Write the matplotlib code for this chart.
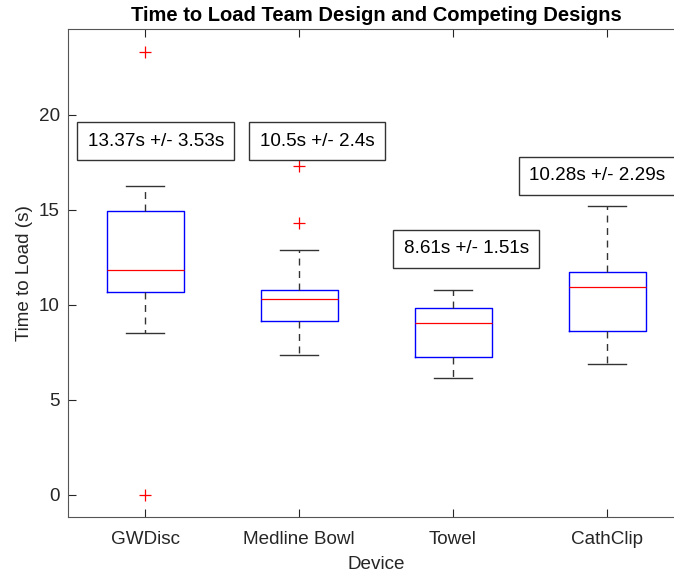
import matplotlib.pyplot as plt

plt.rcParams['font.family'] = ['Liberation Sans', 'DejaVu Sans']

# box stats (seconds)
devices = ['GWDisc', 'Medline Bowl', 'Towel', 'CathClip']
medians = [11.83, 10.32, 9.04, 10.96]
q1 = [10.65, 9.17, 7.26, 8.62]
q3 = [14.91, 10.79, 9.83, 11.72]
whis_lo = [8.51, 7.37, 6.14, 6.86]
whis_hi = [16.23, 12.89, 10.79, 15.21]
outliers = [[23.3, 0.0], [17.28, 14.30], [], []]

# mean +/- sd labels and where they sit
labels = ['13.37s +/- 3.53s', '10.5s +/- 2.4s', '8.61s +/- 1.51s', '10.28s +/- 2.29s']
label_x = [1.07, 2.118, 3.086, 3.935]
label_y = [18.62, 18.62, 12.95, 16.79]

axis_col = '#262626'

fig = plt.figure(figsize=(6.74, 5.75), dpi=100)
ax = fig.add_axes([68 / 674, 58 / 575, 616 / 674, 487.7 / 575])

stats = []
for i, name in enumerate(devices):
    stats.append({'label': name, 'med': medians[i], 'q1': q1[i], 'q3': q3[i],
                  'whislo': whis_lo[i], 'whishi': whis_hi[i], 'fliers': outliers[i]})

ax.bxp(stats, positions=[1, 2, 3, 4], widths=0.5, showfliers=True,
       boxprops=dict(color='#0000ff', linewidth=1.0),
       medianprops=dict(color='#ff0000', linewidth=0.9),
       whiskerprops=dict(color='#333333', linewidth=1.0, linestyle=(0, (5, 4))),
       capprops=dict(color='#333333', linewidth=1.0),
       capwidths=0.25,
       flierprops=dict(marker='+', markeredgecolor='#ff0000', markersize=9,
                       markeredgewidth=0.9, linestyle='none'))

for i in range(len(labels)):
    ax.text(label_x[i], label_y[i], labels[i], ha='center', va='center', fontsize=13.6,
            color='black',
            bbox=dict(boxstyle='square,pad=0.55', facecolor='white', edgecolor='#333333',
                      linewidth=1.0))

ax.set_xlim(0.5, 4.5)
ax.set_ylim(-1.17, 24.5)
ax.set_yticks([0, 5, 10, 15, 20])
ax.set_xticks([1, 2, 3, 4])
ax.set_xticklabels(devices)

ax.tick_params(direction='in', length=6, width=0.8, colors=axis_col, labelsize=13.6,
               top=True, right=True)
ax.tick_params(axis='x', pad=10)
ax.tick_params(axis='y', pad=6)
for s in ax.spines.values():
    s.set_color('#555555')
    s.set_linewidth(0.8)

ax.set_xlabel('Device', fontsize=13.6, color=axis_col, labelpad=6)
ax.set_ylabel('Time to Load (s)', fontsize=13.6, color=axis_col, labelpad=4)
ax.set_title('Time to Load Team Design and Competing Designs', fontsize=14.5,
             fontweight='bold', pad=6)

fig.savefig('out.png', dpi=100)
